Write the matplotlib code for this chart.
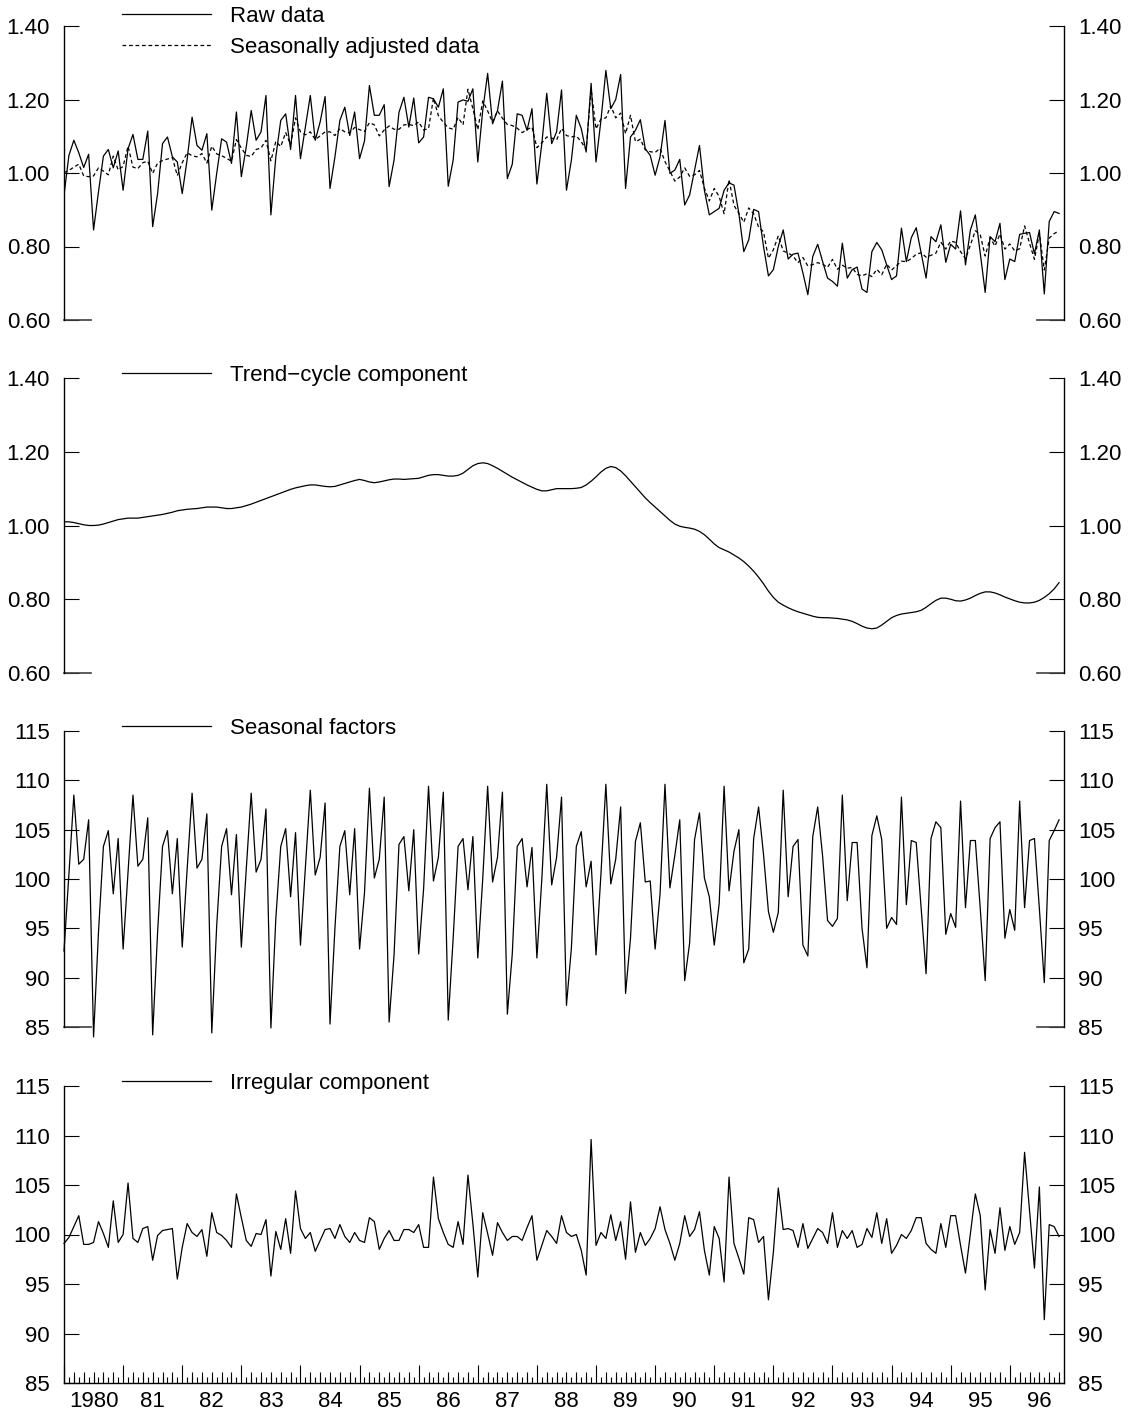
import numpy as np
import matplotlib
matplotlib.use("Agg")
import matplotlib.pyplot as plt
from matplotlib.ticker import FormatStrFormatter, FixedLocator, NullFormatter

plt.rcParams["font.family"] = ["Liberation Sans", "DejaVu Sans"]
plt.rcParams["font.size"] = 16

# monthly series, Jan 1980 - Nov 1996
start_year = 1980

raw = [0.940, 1.048, 1.089, 1.055, 1.015, 1.051, 0.845, 0.949, 1.046, 1.064, 1.014, 1.060,
       0.953, 1.066, 1.105, 1.037, 1.037, 1.114, 0.854, 0.944, 1.080, 1.098, 1.044, 1.030,
       0.944, 1.037, 1.152, 1.075, 1.062, 1.107, 0.899, 0.999, 1.093, 1.084, 1.026, 1.166,
       0.990, 1.071, 1.170, 1.089, 1.112, 1.211, 0.886, 1.044, 1.143, 1.161, 1.064, 1.211,
       1.039, 1.125, 1.211, 1.089, 1.139, 1.208, 0.958, 1.044, 1.143, 1.179, 1.102, 1.166,
       1.039, 1.087, 1.238, 1.157, 1.157, 1.186, 0.963, 1.035, 1.165, 1.206, 1.125, 1.204,
       1.082, 1.098, 1.206, 1.202, 1.179, 1.229, 0.964, 1.035, 1.193, 1.199, 1.195, 1.229,
       1.030, 1.170, 1.271, 1.134, 1.170, 1.250, 0.985, 1.024, 1.161, 1.157, 1.116, 1.175,
       0.970, 1.080, 1.217, 1.080, 1.112, 1.226, 0.953, 1.035, 1.157, 1.121, 1.057, 1.244,
       1.030, 1.143, 1.279, 1.175, 1.200, 1.268, 0.958, 1.098, 1.116, 1.145, 1.066, 1.048,
       0.994, 1.044, 1.143, 0.999, 1.008, 1.037, 0.913, 0.940, 1.008, 1.075, 0.953, 0.886,
       0.895, 0.904, 0.953, 0.973, 0.967, 0.890, 0.786, 0.818, 0.901, 0.895, 0.800, 0.720,
       0.737, 0.800, 0.845, 0.766, 0.779, 0.782, 0.728, 0.669, 0.773, 0.806, 0.759, 0.714,
       0.705, 0.692, 0.809, 0.714, 0.737, 0.744, 0.684, 0.675, 0.786, 0.811, 0.791, 0.750,
       0.710, 0.720, 0.850, 0.759, 0.824, 0.851, 0.782, 0.714, 0.827, 0.813, 0.859, 0.757,
       0.806, 0.793, 0.897, 0.750, 0.845, 0.886, 0.782, 0.675, 0.827, 0.813, 0.863, 0.710,
       0.766, 0.759, 0.833, 0.836, 0.838, 0.780, 0.845, 0.671, 0.868, 0.895, 0.890]

seas_adj = [1.001, 1.007, 1.016, 1.024, 0.992, 0.990, 0.992, 1.014, 1.005, 0.995, 1.046, 1.008,
            1.018, 1.073, 1.016, 1.012, 1.028, 1.032, 0.999, 1.027, 1.034, 1.038, 1.042, 0.993,
            1.028, 1.055, 1.047, 1.044, 1.053, 1.027, 1.073, 1.052, 1.047, 1.040, 1.032, 1.091,
            1.068, 1.048, 1.045, 1.064, 1.068, 1.089, 1.033, 1.086, 1.072, 1.110, 1.077, 1.150,
            1.112, 1.104, 1.112, 1.091, 1.101, 1.112, 1.112, 1.102, 1.121, 1.112, 1.109, 1.124,
            1.118, 1.113, 1.137, 1.131, 1.101, 1.117, 1.128, 1.119, 1.119, 1.131, 1.132, 1.129,
            1.139, 1.117, 1.121, 1.204, 1.156, 1.138, 1.123, 1.119, 1.151, 1.131, 1.228, 1.175,
            1.118, 1.196, 1.169, 1.138, 1.169, 1.149, 1.132, 1.129, 1.122, 1.110, 1.118, 1.125,
            1.069, 1.082, 1.098, 1.095, 1.090, 1.121, 1.102, 1.098, 1.101, 1.085, 1.064, 1.228,
            1.120, 1.147, 1.150, 1.183, 1.150, 1.163, 1.107, 1.157, 1.085, 1.092, 1.063, 1.058,
            1.056, 1.067, 1.031, 1.005, 0.978, 0.989, 1.014, 0.991, 0.995, 1.007, 0.959, 0.924,
            0.958, 0.936, 0.889, 0.982, 0.912, 0.890, 0.866, 0.905, 0.889, 0.853, 0.840, 0.768,
            0.791, 0.829, 0.788, 0.782, 0.774, 0.756, 0.770, 0.747, 0.751, 0.756, 0.752, 0.743,
            0.765, 0.738, 0.749, 0.741, 0.743, 0.724, 0.720, 0.726, 0.718, 0.738, 0.723, 0.752,
            0.736, 0.748, 0.760, 0.759, 0.767, 0.779, 0.783, 0.771, 0.776, 0.782, 0.812, 0.793,
            0.815, 0.811, 0.786, 0.767, 0.804, 0.843, 0.832, 0.774, 0.824, 0.801, 0.834, 0.793,
            0.807, 0.788, 0.794, 0.856, 0.809, 0.765, 0.835, 0.736, 0.823, 0.835, 0.843]

trend = [1.010, 1.010, 1.008, 1.005, 1.002, 1.000, 1.000, 1.001, 1.004, 1.008, 1.012, 1.016,
         1.018, 1.020, 1.020, 1.020, 1.022, 1.024, 1.026, 1.028, 1.030, 1.033, 1.036, 1.040,
         1.042, 1.044, 1.045, 1.046, 1.048, 1.050, 1.050, 1.050, 1.048, 1.046, 1.046, 1.048,
         1.050, 1.054, 1.058, 1.063, 1.068, 1.073, 1.078, 1.083, 1.088, 1.093, 1.098, 1.102,
         1.105, 1.108, 1.110, 1.110, 1.108, 1.106, 1.105, 1.106, 1.110, 1.114, 1.118, 1.122,
         1.125, 1.122, 1.118, 1.116, 1.118, 1.121, 1.124, 1.126, 1.126, 1.125, 1.126, 1.127,
         1.128, 1.132, 1.136, 1.138, 1.138, 1.136, 1.134, 1.134, 1.136, 1.142, 1.152, 1.162,
         1.168, 1.170, 1.168, 1.162, 1.155, 1.147, 1.139, 1.131, 1.124, 1.117, 1.110, 1.104,
         1.098, 1.094, 1.094, 1.097, 1.100, 1.100, 1.100, 1.100, 1.101, 1.103, 1.110, 1.120,
         1.132, 1.145, 1.155, 1.160, 1.157, 1.148, 1.135, 1.120, 1.105, 1.090, 1.075, 1.062,
         1.050, 1.038, 1.026, 1.014, 1.004, 0.998, 0.995, 0.993, 0.990, 0.984, 0.975, 0.963,
         0.950, 0.940, 0.934, 0.928, 0.920, 0.912, 0.902, 0.890, 0.876, 0.860, 0.842, 0.822,
         0.805, 0.792, 0.784, 0.777, 0.771, 0.766, 0.762, 0.758, 0.754, 0.751, 0.750, 0.750,
         0.749, 0.748, 0.746, 0.744, 0.740, 0.734, 0.727, 0.722, 0.720, 0.722, 0.730, 0.740,
         0.750, 0.756, 0.760, 0.762, 0.764, 0.766, 0.770, 0.778, 0.788, 0.797, 0.803, 0.803,
         0.800, 0.796, 0.795, 0.798, 0.803, 0.810, 0.816, 0.820, 0.820, 0.817, 0.812, 0.806,
         0.801, 0.796, 0.792, 0.790, 0.790, 0.792, 0.797, 0.805, 0.815, 0.828, 0.845]

seasonal = [92.7, 100.5, 108.5, 101.5, 102.0, 106.0, 84.0, 94.6, 103.3, 104.9, 98.5, 104.1,
            92.9, 100.7, 108.5, 101.3, 102.0, 106.2, 84.2, 94.6, 103.3, 104.9, 98.5, 104.1,
            93.1, 101.0, 108.7, 101.1, 102.0, 106.6, 84.4, 95.3, 103.3, 105.1, 98.4, 104.5,
            93.1, 101.0, 108.7, 100.7, 102.0, 107.1, 84.9, 96.0, 103.3, 105.1, 98.2, 104.7,
            93.3, 101.2, 109.0, 100.4, 102.2, 107.7, 85.3, 95.0, 103.3, 104.9, 98.4, 105.1,
            92.9, 98.6, 109.2, 100.1, 102.0, 108.3, 85.5, 92.3, 103.5, 104.3, 98.8, 105.0,
            92.4, 99.0, 109.4, 99.8, 102.2, 108.8, 85.7, 94.0, 103.3, 104.1, 98.9, 104.3,
            92.0, 100.0, 109.4, 99.7, 102.2, 108.8, 86.3, 92.4, 103.3, 104.1, 99.2, 103.2,
            92.0, 100.0, 109.6, 99.4, 102.2, 108.3, 87.2, 93.0, 103.3, 104.8, 99.2, 101.8,
            92.3, 100.5, 109.6, 99.5, 102.0, 107.3, 88.4, 94.0, 103.8, 105.7, 99.7, 99.8,
            92.9, 98.5, 109.6, 99.1, 102.4, 106.0, 89.7, 93.5, 104.0, 106.7, 100.1, 98.2,
            93.3, 97.5, 109.4, 98.8, 102.8, 105.0, 91.5, 92.9, 104.1, 107.3, 102.5, 96.7,
            94.6, 96.6, 109.0, 98.2, 103.3, 104.0, 93.3, 92.2, 104.3, 107.3, 102.3, 95.8,
            95.2, 96.0, 108.5, 97.8, 103.7, 103.7, 95.0, 91.0, 104.4, 106.4, 104.0, 95.0,
            96.1, 95.4, 108.3, 97.4, 103.9, 103.7, 97.0, 90.4, 104.1, 105.8, 105.2, 94.4,
            96.5, 95.1, 107.9, 97.1, 103.9, 103.9, 97.0, 89.7, 104.1, 105.2, 105.8, 94.0,
            96.9, 94.8, 107.9, 97.1, 103.9, 104.1, 97.0, 89.5, 103.9, 104.9, 106.0]

irregular = [99.1, 99.7, 100.8, 101.9, 99.0, 99.0, 99.2, 101.3, 100.1, 98.7, 103.4, 99.2,
             100.0, 105.2, 99.6, 99.2, 100.6, 100.8, 97.4, 99.9, 100.4, 100.5, 100.6, 95.5,
             98.7, 101.1, 100.2, 99.8, 100.5, 97.8, 102.2, 100.2, 99.9, 99.4, 98.7, 104.1,
             101.7, 99.4, 98.8, 100.1, 100.0, 101.5, 95.8, 100.3, 98.5, 101.6, 98.1, 104.4,
             100.6, 99.6, 100.2, 98.3, 99.4, 100.5, 100.6, 99.6, 101.0, 99.8, 99.2, 100.2,
             99.4, 99.2, 101.7, 101.3, 98.5, 99.6, 100.4, 99.4, 99.4, 100.5, 100.5, 100.2,
             101.0, 98.7, 98.7, 105.8, 101.6, 100.2, 99.0, 98.7, 101.3, 99.0, 106.0, 101.1,
             95.7, 102.2, 100.1, 97.9, 101.2, 100.2, 99.4, 99.8, 99.8, 99.4, 100.7, 101.9,
             97.4, 98.9, 100.4, 99.8, 99.1, 101.9, 100.2, 99.8, 100.0, 98.4, 95.9, 109.6,
             98.9, 100.2, 99.6, 102.0, 99.4, 101.3, 97.5, 103.3, 98.2, 100.2, 98.9, 99.6,
             100.6, 102.8, 100.5, 99.1, 97.4, 99.1, 101.9, 99.8, 100.5, 102.3, 98.4, 95.9,
             100.8, 99.6, 95.2, 105.8, 99.1, 97.6, 96.0, 101.7, 101.5, 99.2, 99.8, 93.4,
             98.2, 104.7, 100.5, 100.6, 100.4, 98.7, 101.1, 98.6, 99.6, 100.6, 100.2, 99.1,
             102.2, 98.7, 100.4, 99.6, 100.4, 98.7, 99.0, 100.6, 99.7, 102.2, 99.1, 101.6,
             98.1, 98.9, 100.0, 99.6, 100.4, 101.7, 101.7, 99.1, 98.5, 98.1, 101.1, 98.7,
             101.9, 101.9, 98.9, 96.1, 100.1, 104.1, 101.9, 94.4, 100.5, 98.1, 102.7, 98.4,
             100.8, 99.0, 100.2, 108.3, 102.4, 96.6, 104.8, 91.4, 101.0, 100.8, 99.8]

year_ticks = list(range(1980, 1997))
year_labels = ["1980", "81", "82", "83", "84", "85", "86", "87", "88",
               "89", "90", "91", "92", "93", "94", "95", "96"]

t = start_year + np.arange(len(raw)) / 12.0
x_left, x_right = 1980, 1980 + 203 / 12.0

W, H = 1128, 1412
fig = plt.figure(figsize=(W / 100, H / 100), dpi=100)

def panel(top, bottom):
    return fig.add_axes([64 / W, 1 - bottom / H, 1000 / W, (bottom - top) / H])

ax1 = panel(26, 320)
ax2 = panel(378, 673)
ax3 = panel(731, 1027)
ax4 = panel(1086, 1383)
axes = [ax1, ax2, ax3, ax4]

lw = 0.9
l_raw, = ax1.plot(t, raw, color="black", lw=lw)
l_sa, = ax1.plot(t, seas_adj, color="black", lw=lw, dashes=(3, 2.2))
l_tr, = ax2.plot(t, trend, color="black", lw=lw)
l_se, = ax3.plot(t, seasonal, color="black", lw=lw, clip_on=False)
l_ir, = ax4.plot(t, irregular, color="black", lw=lw, clip_on=False)

for ax in [ax1, ax2]:
    ax.set_ylim(0.60, 1.40)
    ax.set_yticks([0.60, 0.80, 1.00, 1.20, 1.40])
    ax.yaxis.set_major_formatter(FormatStrFormatter("%.2f"))
for ax in [ax3, ax4]:
    ax.set_ylim(85, 115)
    ax.set_yticks([85, 90, 95, 100, 105, 110, 115])

for ax in axes:
    ax.set_xlim(x_left, x_right)
    ax.spines["top"].set_visible(False)
    ax.spines["left"].set_linewidth(1.0)
    ax.spines["right"].set_linewidth(1.0)
    ax.tick_params(axis="y", direction="in", length=11, width=0.8, pad=10,
                   left=True, right=True, labelleft=True, labelright=True)
    if ax is not ax4:
        ax.spines["bottom"].set_visible(False)
        ax.set_xticks([])
        # short stub of the missing baseline at the lowest tick
        ax.plot([0, 0.027], [0, 0], transform=ax.transAxes, color="0.25", lw=1.2, clip_on=False)
        ax.plot([0.973, 1], [0, 0], transform=ax.transAxes, color="0.25", lw=1.2, clip_on=False)

# bottom time axis: long ticks at years, medium every two months, short monthly
ax4.spines["bottom"].set_linewidth(1.0)
ax4.xaxis.set_major_locator(FixedLocator(year_ticks))
ax4.xaxis.set_minor_locator(FixedLocator(t))
ax4.xaxis.set_major_formatter(NullFormatter())
ax4.tick_params(axis="x", which="major", direction="in", length=13, width=0.8)
ax4.tick_params(axis="x", which="minor", direction="in", length=4, width=0.8)

bimonth = ax4.secondary_xaxis("bottom")
bimonth.set_xticks([y + k / 6 for y in year_ticks for k in range(1, 6) if y + k / 6 < x_right])
bimonth.xaxis.set_major_formatter(NullFormatter())
bimonth.tick_params(axis="x", direction="in", length=8, width=0.8)
bimonth.spines["bottom"].set_visible(False)

labels = ax4.secondary_xaxis("bottom")
labels.set_xticks([y + 0.5 for y in year_ticks], year_labels)
labels.tick_params(axis="x", length=0, pad=6)
labels.spines["bottom"].set_visible(False)

leg_kw = dict(frameon=False, handlelength=4.0, handletextpad=0.85, borderpad=0,
              borderaxespad=0, loc="center left", bbox_transform=fig.transFigure)
ax1.legend([l_raw, l_sa], ["Raw data", "Seasonally adjusted data"], labelspacing=0.44,
           bbox_to_anchor=(122 / W, 1 - 32 / H), **leg_kw)
ax2.legend([l_tr], ["Trend\u2212cycle component"], bbox_to_anchor=(122 / W, 1 - 375 / H), **leg_kw)
ax3.legend([l_se], ["Seasonal factors"], bbox_to_anchor=(122 / W, 1 - 728 / H), **leg_kw)
ax4.legend([l_ir], ["Irregular component"], bbox_to_anchor=(122 / W, 1 - 1083 / H), **leg_kw)

fig.savefig("out.png", dpi=100)
